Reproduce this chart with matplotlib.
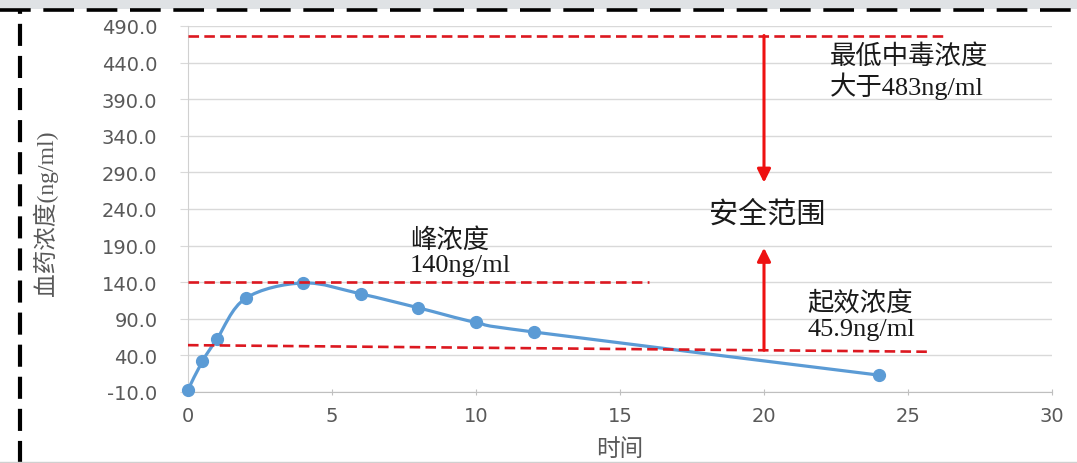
import numpy as np
import matplotlib
matplotlib.use("Agg")
import matplotlib.pyplot as plt
from matplotlib.path import Path
from matplotlib.patches import PathPatch, Rectangle
from matplotlib.lines import Line2D

# blood concentration curve
hours = [0, 0.5, 1, 2, 4, 6, 8, 10, 12, 24]
conc = [-7, 32, 62, 118, 139, 124, 105, 85, 72, 13]

# reference lines (x start, x end, y start, y end)
toxic_x = [0, 26.3]
toxic_y = [477, 477]
peak_x = [0, 16]
peak_y = [140, 140]
onset_x = [0, 25.7]
onset_y = [54, 45]

# arrows (x, y from, y to)
arrow_x = 20
arrow_down = [477, 276]
arrow_up = [47, 187]

yticks = np.arange(-10, 491, 50)
xticks = [0, 5, 10, 15, 20, 25, 30]

GRAY = "#595959"
CJK = ["Liberation Serif", "Noto Sans CJK SC"]


def smooth_path(x, y):
    # Catmull-Rom style smoothing drawn as cubic bezier pieces
    pts = np.column_stack([x, y]).astype(float)
    n = len(pts)
    verts = [pts[0]]
    codes = [Path.MOVETO]
    for i in range(n - 1):
        p0 = pts[i - 1] if i > 0 else pts[i]
        p1 = pts[i]
        p2 = pts[i + 1]
        p3 = pts[i + 2] if i + 2 < n else pts[i + 1]
        c1 = p1 + (p2 - p0) / 6
        c2 = p2 - (p3 - p1) / 6
        verts += [c1, c2, p2]
        codes += [Path.CURVE4] * 3
    return Path(verts, codes)


fig = plt.figure(figsize=(10.77, 4.64), dpi=100)
fig.patch.set_facecolor("white")

# screenshot frame: grey band and dashed border
fig.patches.append(Rectangle((0, 1 - 10 / 464), 1, 10 / 464, transform=fig.transFigure,
                             facecolor="#dfe2e5", edgecolor="none", zorder=0))
fig.lines.append(Line2D([0, 1], [1 - 11 / 464, 1 - 11 / 464], transform=fig.transFigure,
                        color="black", lw=2.6, dashes=(8.5, 3.5)))
fig.lines.append(Line2D([20 / 1077, 20 / 1077], [0, 1 - 11 / 464], transform=fig.transFigure,
                        color="black", lw=3, dashes=(5.3, 2.4)))
fig.lines.append(Line2D([0, 1], [0.002, 0.002], transform=fig.transFigure,
                        color="#d0d0d0", lw=1))

ax = fig.add_axes([188 / 1077, 71 / 464, 864 / 1077, 366 / 464])
ax.set_xlim(0, 30)
ax.set_ylim(-10, 490)
ax.set_yticks(yticks)
ax.set_yticklabels(["%.1f" % v for v in yticks])
ax.set_xticks(xticks)
ax.yaxis.grid(True, color="#d9d9d9", lw=1)
ax.set_axisbelow(True)
for s in ["top", "right"]:
    ax.spines[s].set_visible(False)
ax.spines["left"].set_color("#d0d0d0")
ax.spines["bottom"].set_color("#bfbfbf")
ax.tick_params(axis="y", length=6, color="#d9d9d9", pad=16, labelsize=14, labelcolor=GRAY)
ax.tick_params(axis="x", length=4, direction="inout", color="#bfbfbf", pad=8,
               labelsize=14, labelcolor=GRAY)

ax.set_ylabel("血药浓度(ng/ml)", family=CJK, fontsize=17, color=GRAY)
ax.yaxis.set_label_coords(-0.15, 0.49)
ax.set_xlabel("时间", family=CJK, fontsize=17, color=GRAY)
ax.xaxis.set_label_coords(0.5, -0.125)

# curve
ax.add_patch(PathPatch(smooth_path(hours, conc), facecolor="none", edgecolor="#5b9bd5",
                       lw=2.3, zorder=3, clip_on=False))
ax.plot(hours, conc, "o", color="#5b9bd5", ms=8.5, zorder=4, clip_on=False)

# dashed reference lines
for lx, ly in [(toxic_x, toxic_y), (peak_x, peak_y), (onset_x, onset_y)]:
    ax.plot(lx, ly, color="#dc1820", lw=1.9, dashes=(4, 2), zorder=5)

# arrows
ax.annotate("", xy=(arrow_x, arrow_down[1]), xytext=(arrow_x, arrow_down[0]),
            arrowprops=dict(arrowstyle="-|>", color="#ee1111", lw=2.2, mutation_scale=20,
                            shrinkA=0, shrinkB=0), zorder=6)
ax.annotate("", xy=(arrow_x, arrow_up[1]), xytext=(arrow_x, arrow_up[0]),
            arrowprops=dict(arrowstyle="-|>", color="#ee1111", lw=2.2, mutation_scale=20,
                            shrinkA=0, shrinkB=0), zorder=6)

# labels
ax.text(22.3, 428, "最低中毒浓度\n大于483ng/ml", family=CJK, fontsize=19, va="center",
        ha="left", linespacing=1.15, color="#1a1a1a")
ax.text(20.1, 234, "安全范围", family=CJK, fontsize=21, va="center", ha="center",
        color="#1a1a1a")
ax.text(7.7, 182, "峰浓度\n140ng/ml", family=CJK, fontsize=19, va="center", ha="left",
        linespacing=1.15, color="#1a1a1a")
ax.text(21.5, 95, "起效浓度\n45.9ng/ml", family=CJK, fontsize=19, va="center", ha="left",
        linespacing=1.15, color="#1a1a1a")

fig.savefig("out.png", dpi=100)
